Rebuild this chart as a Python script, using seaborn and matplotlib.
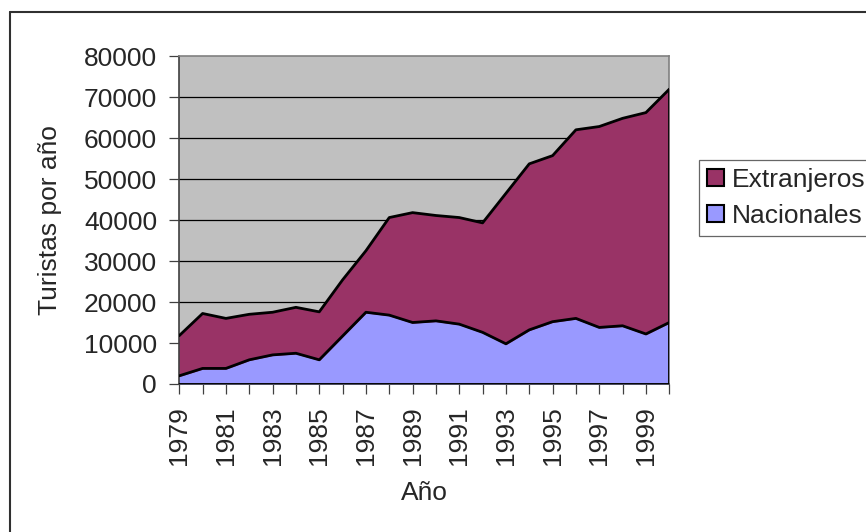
import numpy as np
import pandas as pd
import seaborn as sns
import matplotlib.pyplot as plt
from matplotlib.patches import Patch
from matplotlib.lines import Line2D

years = list(range(1979, 2001))
nacionales = [2000, 3800, 3800, 5900, 7100, 7500, 5900, 11700, 17500, 16800, 15000,
              15400, 14600, 12600, 9800, 13200, 15200, 16000, 13800, 14200, 12200, 15000]
total = [11800, 17200, 16000, 17000, 17500, 18700, 17600, 25400, 32500, 40600, 41800,
         41100, 40600, 39300, 46500, 53700, 55700, 62000, 62800, 64800, 66200, 71900]
extranjeros = [t - n for t, n in zip(total, nacionales)]
tick_years = list(range(1979, 2000, 2))

df = pd.DataFrame({'Año': years, 'Nacionales': nacionales, 'Extranjeros': extranjeros})
df['Total'] = df['Nacionales'] + df['Extranjeros']

sns.set_style('white')
plt.rcParams['font.family'] = ['Liberation Sans', 'DejaVu Sans']
fs = 19

fig = plt.figure(figsize=(8.66, 5.32), dpi=100)
ax = fig.add_axes([0.2070, 0.2782, 0.5658, 0.6165])
ax.set_facecolor('#C0C0C0')

# gridlines
for v in range(10000, 80000, 10000):
    ax.axhline(v, color='black', lw=0.9, zorder=1)

ax.fill_between(df['Año'], 0, df['Nacionales'], color='#9999FF', zorder=2)
ax.fill_between(df['Año'], df['Nacionales'], df['Total'], color='#993366', zorder=2)
sns.lineplot(data=df, x='Año', y='Nacionales', color='black', lw=2, ax=ax, zorder=3)
sns.lineplot(data=df, x='Año', y='Total', color='black', lw=2, ax=ax, zorder=3)
ax.plot([df['Año'].iloc[-1]] * 2, [0, df['Total'].iloc[-1]], color='black', lw=2, zorder=3)
ax.plot(df['Año'], [0] * len(df), color='black', lw=2, zorder=3)

ax.set_xlim(1979, 2000)
ax.set_ylim(0, 80000)
ax.set_yticks(range(0, 80001, 10000))
ax.set_xticks(years)
ax.set_xticklabels([str(y) if y in tick_years else '' for y in years], rotation=90)
ax.tick_params(axis='both', direction='out', length=7, width=0.9, color='#404040',
               labelsize=fs, pad=9, left=True, bottom=True)
for s in ax.spines.values():
    s.set_color('#808080')
    s.set_linewidth(1.2)
ax.spines['left'].set_color('#404040')
ax.spines['bottom'].set_color('#404040')

ax.set_xlabel('Año', fontsize=fs, va='center')
ax.set_ylabel('Turistas por año', fontsize=fs, va='center')
ax.xaxis.set_label_coords((424 - 179.3) / 490, (384 - 493) / 328)
ax.yaxis.set_label_coords((50 - 179.3) / 490, 0.5)

handles = [Patch(facecolor='#993366', edgecolor='black', lw=1.5, label='Extranjeros'),
           Patch(facecolor='#9999FF', edgecolor='black', lw=1.5, label='Nacionales')]
leg = fig.legend(handles=handles, loc='upper left', bbox_to_anchor=(699 / 866, 1 - 160 / 532),
                 fontsize=fs, frameon=True, fancybox=False, handlelength=0.65, handleheight=0.65,
                 handletextpad=0.3, borderpad=0.3, labelspacing=0.45, borderaxespad=0)
leg.get_frame().set_edgecolor('#404040')
leg.get_frame().set_linewidth(0.9)

# chart border (left + top visible)
fig.add_artist(Line2D([10 / 866, 10 / 866], [0, 1 - 12 / 532], color='#303030', lw=1.5))
fig.add_artist(Line2D([10 / 866, 1], [1 - 12 / 532, 1 - 12 / 532], color='#303030', lw=1.5))

fig.savefig('out.png', dpi=100, facecolor='white')
